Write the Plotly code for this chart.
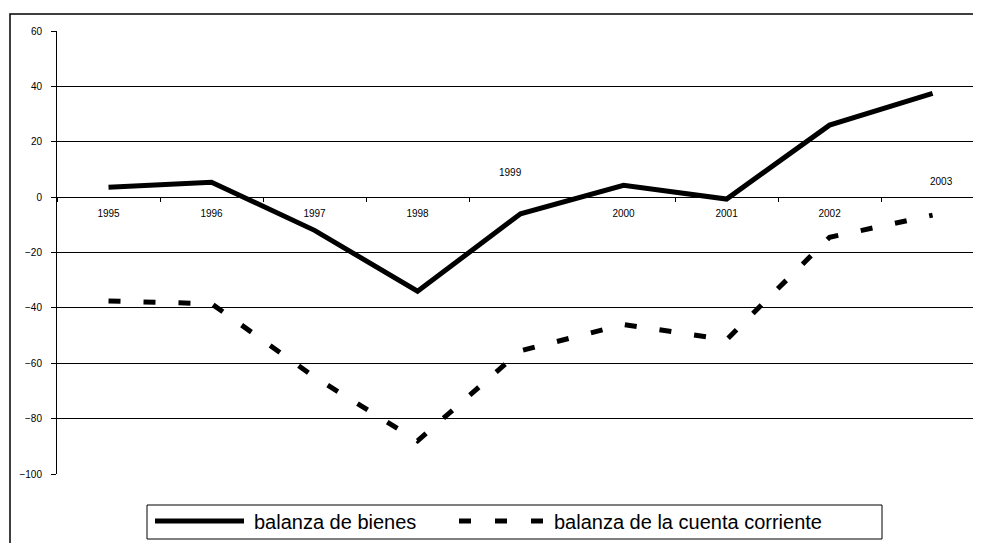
import plotly.graph_objects as go

years = ["1995", "1996", "1997", "1998", "1999", "2000", "2001", "2002", "2003"]
bienes = [3.6, 5.4, -12.0, -34.0, -6.0, 4.3, -0.7, 26.0, 37.5]
cuenta = [-37.5, -38.5, -65.0, -88.0, -55.5, -46.0, -51.5, -14.5, -6.5]
tick_labels = ["1995", "1996", "1997", "1998", "", "2000", "2001", "2002", ""]
y_ticks = [60, 40, 20, 0, -20, -40, -60, -80, -100]
series_names = ["balanza de bienes", "balanza de la cuenta corriente"]

OFF = 8  # page body margin
W, H = 981 - OFF, 543 - OFF
L, R, T, B = 57 - OFF, 0, 31 - OFF, 543 - 474
pw, ph = W - L - R, H - T - B


def px_x(sx):
    return (sx - OFF - L) / pw


def px_y(sy):
    return (H - B - (sy - OFF)) / ph


fig = go.Figure()
fig.add_trace(go.Scatter(
    x=years, y=bienes, mode="lines", name=series_names[0],
    line=dict(color="black", width=5)))
fig.add_trace(go.Scatter(
    x=years, y=cuenta, mode="lines", name=series_names[1],
    line=dict(color="black", width=5, dash="12px,23px")))

font = "Liberation Sans, Arial, sans-serif"

fig.update_layout(
    width=W, height=H,
    margin=dict(l=L, r=R, t=T, b=B, pad=0),
    paper_bgcolor="white", plot_bgcolor="white",
    font=dict(family=font, color="black", size=10),
    showlegend=False,
    xaxis=dict(
        type="category", range=[-0.5, 8.47],
        tickmode="array", tickvals=years, ticktext=tick_labels,
        anchor="free", position=100 / 160,
        showline=True, linecolor="black", linewidth=1,
        ticks="outside", tickson="boundaries", ticklen=4, tickcolor="black",
        showgrid=False, zeroline=False, ticklabelstandoff=7,
        tickfont=dict(size=10)),
    yaxis=dict(
        range=[-100, 60], tickmode="array", tickvals=y_ticks,
        showline=True, linecolor="black", linewidth=1,
        ticks="outside", ticklen=5, tickcolor="black",
        showgrid=True, gridcolor="black", gridwidth=1,
        zeroline=False, ticklabelstandoff=7,
        tickfont=dict(size=10)),
)

# labels for 1999 and 2003 placed above the axis as in the original
fig.add_annotation(x=years.index("1999"), y=0, xref="x", yref="y", text="1999",
                   showarrow=False, xshift=-10, yshift=25, font=dict(size=10))
fig.add_annotation(x=years.index("2003"), y=0, xref="x", yref="y", text="2003",
                   showarrow=False, xshift=9, yshift=16, font=dict(size=10))

# clipped note at the top
fig.add_annotation(x=1.0, y=px_y(6), xref="paper", yref="paper",
                   xanchor="right", yanchor="bottom", showarrow=False,
                   text="<i>(Miles de millones de dólares, precios corrientes)</i>",
                   font=dict(size=11))

# outer chart frame
fig.add_shape(type="rect", xref="paper", yref="paper",
              x0=px_x(10), x1=px_x(1100), y0=px_y(14), y1=px_y(700),
              line=dict(color="black", width=1.5), layer="below")

# legend (drawn manually to match the long line samples)
fig.add_shape(type="rect", xref="paper", yref="paper",
              x0=px_x(147), x1=px_x(882), y0=px_y(505), y1=px_y(539),
              line=dict(color="black", width=1), fillcolor="white")
fig.add_shape(type="line", xref="paper", yref="paper",
              x0=px_x(155), x1=px_x(244), y0=px_y(521), y1=px_y(521),
              line=dict(color="black", width=5))
fig.add_shape(type="line", xref="paper", yref="paper",
              x0=px_x(459), x1=px_x(543), y0=px_y(521), y1=px_y(521),
              line=dict(color="black", width=5, dash="12px,24px"))
fig.add_annotation(x=px_x(252), y=px_y(522), xref="paper", yref="paper",
                   xanchor="left", yanchor="middle", showarrow=False,
                   text=series_names[0], font=dict(size=20))
fig.add_annotation(x=px_x(552), y=px_y(522), xref="paper", yref="paper",
                   xanchor="left", yanchor="middle", showarrow=False,
                   text=series_names[1], font=dict(size=20))

fig.write_html("out.html")
